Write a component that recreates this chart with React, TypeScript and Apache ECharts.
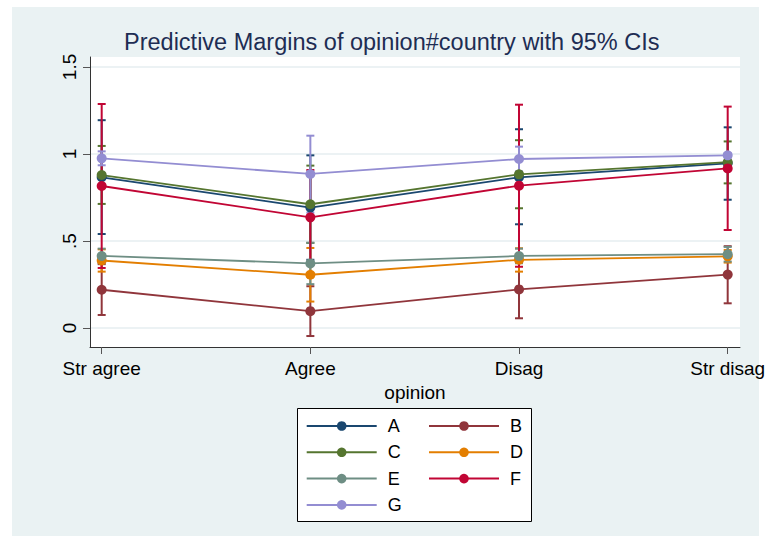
import React, { useEffect, useRef } from "react";
import * as echarts from "echarts";

const categories = ["Str agree", "Agree", "Disag", "Str disag"];
const countries = ["A", "B", "C", "D", "E", "F", "G"];
const colors = ["#1a476f", "#90353b", "#55752f", "#e37e00", "#6e8e84", "#c10534", "#938dd2"];

const meanA = [0.866, 0.692, 0.866, 0.946];
const loA = [0.54, 0.392, 0.596, 0.737];
const hiA = [1.194, 0.992, 1.142, 1.153];

const meanB = [0.22, 0.097, 0.222, 0.307];
const loB = [0.075, -0.046, 0.056, 0.142];
const hiB = [0.367, 0.24, 0.388, 0.47];

const meanC = [0.879, 0.711, 0.883, 0.953];
const loC = [0.713, 0.489, 0.688, 0.831];
const hiC = [1.046, 0.933, 1.079, 1.072];

const meanD = [0.388, 0.306, 0.392, 0.412];
const loD = [0.324, 0.152, 0.324, 0.376];
const hiD = [0.452, 0.46, 0.458, 0.448];

const meanE = [0.414, 0.371, 0.414, 0.424];
const loE = [0.372, 0.252, 0.372, 0.382];
const hiE = [0.456, 0.49, 0.456, 0.466];

const meanF = [0.816, 0.636, 0.818, 0.917];
const loF = [0.345, 0.364, 0.352, 0.563];
const hiF = [1.287, 0.908, 1.283, 1.272];

const meanG = [0.975, 0.885, 0.971, 0.992];
const loG = [0.935, 0.663, 0.9, 0.98];
const hiG = [1.015, 1.105, 1.042, 1.004];

const means = [meanA, meanB, meanC, meanD, meanE, meanF, meanG];
const lows = [loA, loB, loC, loD, loE, loF, loG];
const highs = [hiA, hiB, hiC, hiD, hiE, hiF, hiG];

const yTicks = [0, 0.5, 1, 1.5];
const yTickLabels = ["0", ".5", "1", "1.5"];
const xTicks = [1, 2, 3, 4];

const titleText = "Predictive Margins of opinion#country with 95% CIs";
const FONT = "'Liberation Sans', Arial, Helvetica, sans-serif";

export default function App() {
  const ref = useRef<HTMLDivElement>(null);
  useEffect(() => {
    if (!ref.current) return;
    const chart = echarts.init(ref.current, undefined, { renderer: "svg" });

    const ciSeries = countries.map((name, k) => ({
      type: "custom",
      name: name + " CI",
      z: 2,
      encode: { x: 0, y: [1, 2] },
      data: lows[k].map((lo, i) => [xTicks[i], lo, highs[k][i]]),
      renderItem: (params: any, api: any) => {
        const x = api.value(0);
        const pLo = api.coord([x, api.value(1)]);
        const pHi = api.coord([x, api.value(2)]);
        const style = { stroke: colors[k], lineWidth: 2 };
        return {
          type: "group",
          children: [
            { type: "line", shape: { x1: pLo[0], y1: pLo[1], x2: pHi[0], y2: pHi[1] }, style },
            { type: "line", shape: { x1: pLo[0] - 4, y1: pLo[1], x2: pLo[0] + 4, y2: pLo[1] }, style },
            { type: "line", shape: { x1: pHi[0] - 4, y1: pHi[1], x2: pHi[0] + 4, y2: pHi[1] }, style },
          ],
        };
      },
    }));

    const lineSeries = countries.map((name, k) => ({
      type: "line",
      name,
      z: 3,
      symbol: "circle",
      symbolSize: 10,
      showSymbol: true,
      lineStyle: { width: 1.8, color: colors[k] },
      itemStyle: { color: colors[k] },
      data: means[k].map((v, i) => [xTicks[i], v]),
    }));

    const legendBase = {
      orient: "vertical",
      top: 417,
      padding: 0,
      itemWidth: 70,
      itemHeight: 12,
      itemGap: 8.3,
      selectedMode: false,
      textStyle: { fontSize: 18, color: "#000", lineHeight: 18, padding: [0, 0, 0, 6], fontFamily: FONT },
    };

    const option: any = {
      animation: false,
      textStyle: { fontFamily: FONT },
      title: {
        text: titleText,
        left: 119,
        top: 25,
        textStyle: { fontSize: 23.5, fontWeight: "normal", color: "#1e2d53", fontFamily: FONT },
      },
      graphic: [
        { type: "rect", z: -10, shape: { x: 12, y: 7, width: 747, height: 529 }, style: { fill: "#eaf2f3" } },
        {
          type: "rect",
          z: -5,
          shape: { x: 297.5, y: 408.5, width: 234, height: 113 },
          style: { fill: "#ffffff", stroke: "#000000", lineWidth: 1 },
        },
      ],
      grid: { left: 90, right: 31, top: 57, bottom: 196, show: true, backgroundColor: "#ffffff", borderWidth: 0 },
      xAxis: {
        type: "value",
        min: 0.944,
        max: 4.059,
        name: "opinion",
        nameLocation: "middle",
        nameGap: 30,
        nameTextStyle: { fontSize: 19, color: "#000", fontFamily: FONT },
        axisLine: { show: true, onZero: false, lineStyle: { color: "#333", width: 1 } },
        axisTick: { show: true, length: 7, customValues: xTicks, lineStyle: { color: "#555" } },
        axisLabel: {
          customValues: xTicks,
          margin: 12,
          fontSize: 19,
          color: "#000",
          fontFamily: FONT,
          formatter: (v: number) => categories[Math.round(v) - 1] ?? "",
        },
        splitLine: { show: false },
      },
      yAxis: {
        type: "value",
        min: -0.109,
        max: 1.557,
        axisLine: { show: true, onZero: false, lineStyle: { color: "#333", width: 1 } },
        axisTick: { show: true, length: 7, customValues: yTicks, lineStyle: { color: "#555" } },
        axisLabel: {
          customValues: yTicks,
          rotate: 90,
          margin: 11,
          fontSize: 19,
          color: "#000",
          fontFamily: FONT,
          formatter: (v: number) => {
            const i = yTicks.findIndex((t) => Math.abs(t - v) < 1e-6);
            return i >= 0 ? yTickLabels[i] : "";
          },
        },
        splitLine: { show: true, lineStyle: { color: "#e6eef0", width: 1.5 } },
      },
      legend: [
        { ...legendBase, left: 305.7, data: ["A", "C", "E", "G"] },
        { ...legendBase, left: 428, data: ["B", "D", "F"] },
      ],
      series: [...ciSeries, ...lineSeries],
    };

    chart.setOption(option);
    return () => chart.dispose();
  }, []);

  return (
    <div
      ref={ref}
      style={{ position: "absolute", left: 0, top: 0, width: 771, height: 543, background: "#fff" }}
    />
  );
}
